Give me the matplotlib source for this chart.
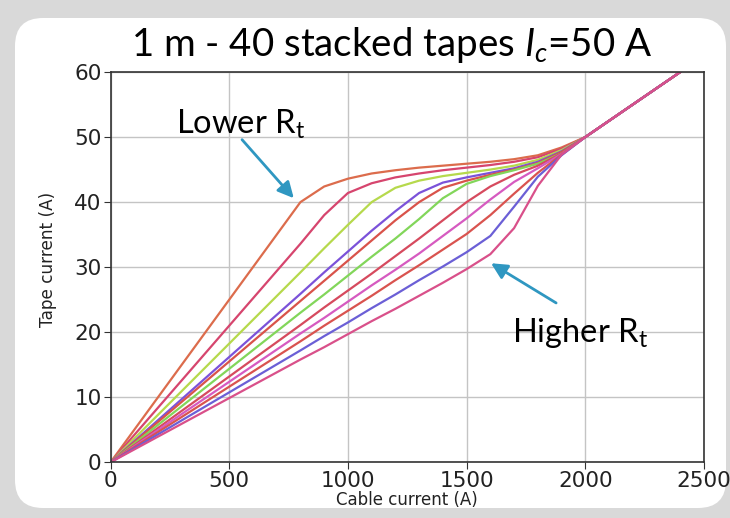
import matplotlib
matplotlib.use("Agg")
import matplotlib.pyplot as plt
from matplotlib.patches import FancyBboxPatch

plt.rcParams['mathtext.fontset'] = 'custom'
plt.rcParams['mathtext.rm'] = 'Lato'
plt.rcParams['mathtext.it'] = 'Lato:italic'

# cable current grid (A)
cable = [0, 800, 900, 1000, 1100, 1200, 1300, 1400, 1500, 1600, 1700, 1800, 1900, 2000, 2400]

# tape current (A), lowest Rt first
tape_1 = [0, 40.0, 42.4, 43.6, 44.4, 44.9, 45.3, 45.6, 45.9, 46.2, 46.6, 47.2, 48.4, 50, 60]
tape_2 = [0, 33.6, 38.0, 41.4, 42.9, 43.8, 44.4, 44.9, 45.3, 45.7, 46.2, 46.9, 48.2, 50, 60]
tape_3 = [0, 29.2, 32.9, 36.5, 40.0, 42.2, 43.3, 44.0, 44.5, 45.0, 45.6, 46.5, 48.0, 50, 60]
tape_4 = [0, 25.9, 29.2, 32.4, 35.6, 38.6, 41.4, 43.0, 43.8, 44.5, 45.2, 46.2, 47.8, 50, 60]
tape_5 = [0, 24.8, 27.9, 31.0, 34.1, 37.2, 40.0, 42.2, 43.3, 44.2, 45.0, 46.0, 47.7, 50, 60]
tape_6 = [0, 23.0, 25.8, 28.7, 31.6, 34.4, 37.4, 40.6, 42.8, 44.0, 44.9, 45.9, 47.5, 50, 60]
tape_7 = [0, 21.1, 23.8, 26.4, 29.0, 31.7, 34.4, 37.2, 40.0, 42.4, 44.2, 45.6, 47.5, 50, 60]
tape_8 = [0, 19.8, 22.2, 24.7, 27.2, 29.6, 32.1, 34.8, 37.5, 40.4, 43.1, 45.2, 47.4, 50, 60]
tape_9 = [0, 18.6, 21.0, 23.3, 25.6, 28.0, 30.3, 32.7, 35.1, 38.0, 41.3, 44.5, 47.3, 50, 60]
tape_10 = [0, 17.2, 19.4, 21.5, 23.7, 25.8, 28.0, 30.1, 32.3, 34.8, 39.3, 43.9, 47.2, 50, 60]
tape_11 = [0, 15.8, 17.7, 19.7, 21.7, 23.6, 25.6, 27.6, 29.7, 32.0, 36.0, 42.5, 47.3, 50, 60]

curves = [tape_1, tape_2, tape_3, tape_4, tape_5, tape_6, tape_7, tape_8, tape_9, tape_10, tape_11]
colors = ['#dc6c4c', '#d6456e', '#b6d94c', '#7b52d9', '#d9534a', '#82d65a',
          '#d64a5e', '#d65ac0', '#d9534f', '#6b5fd6', '#d9508a']

fig = plt.figure(figsize=(7.3, 5.18), dpi=100)
fig.patch.set_facecolor('#d9d9d9')

# white rounded panel behind the chart
panel = FancyBboxPatch((0.15, 0.10), 7.11, 4.90,
                       boxstyle="round,pad=0,rounding_size=0.28",
                       transform=fig.dpi_scale_trans,
                       facecolor='white', edgecolor='none', zorder=-10)
fig.patches.append(panel)

ax = fig.add_axes([0.1514, 0.1075, 0.8130, 0.7535])
ax.set_facecolor('white')

for y, c in zip(curves, colors):
    ax.plot(cable, y, color=c, lw=1.6)

ax.set_xlim(0, 2500)
ax.set_ylim(0, 60)
ax.set_xticks([0, 500, 1000, 1500, 2000, 2500])
ax.set_yticks([0, 10, 20, 30, 40, 50, 60])
ax.grid(True, color='#c4c4c4', lw=1)
ax.set_axisbelow(True)
for s in ax.spines.values():
    s.set_color('#333333')
    s.set_linewidth(1.2)
ax.tick_params(labelsize=15.5, length=5, pad=1.5, color='#333333', labelcolor='#222222')
ax.set_xlabel('Cable current (A)', fontsize=12, labelpad=0, color='#222222')
ax.set_ylabel('Tape current (A)', fontsize=12.2, color='#222222')
ax.yaxis.set_label_coords(-0.090, 0.52)

fig.text(392 / 730, 1 - 45 / 518, '1 m - 40 stacked tapes $I_c$=50 A',
         family='Lato', fontsize=27.7, ha='center', va='center')

arrow_color = '#2f97c1'
ax.text(547, 52.0, 'Lower R$_\\mathregular{t}$', family='Lato', fontsize=23.5,
        ha='center', va='center')
ax.annotate('', xy=(772, 40.6), xytext=(554, 49.6),
            arrowprops=dict(arrowstyle='-|>', color=arrow_color, lw=2,
                            mutation_scale=24, shrinkA=0, shrinkB=0))
ax.text(1978, 19.9, 'Higher R$_\\mathregular{t}$', family='Lato', fontsize=23.5,
        ha='center', va='center')
ax.annotate('', xy=(1603, 30.6), xytext=(1877, 24.5),
            arrowprops=dict(arrowstyle='-|>', color=arrow_color, lw=2,
                            mutation_scale=24, shrinkA=0, shrinkB=0))

plt.savefig('out.png', dpi=100, facecolor=fig.get_facecolor())
